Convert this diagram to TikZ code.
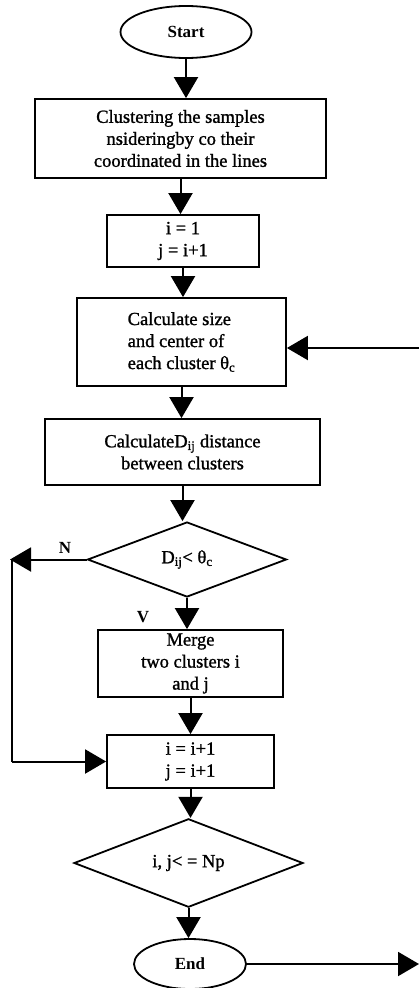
\documentclass[tikz,border=0pt]{standalone}
\usepackage{fontspec}
\setmainfont{Liberation Serif}
\newfontfamily\heavyserif[FakeBold=1.2]{Liberation Serif}
\usetikzlibrary{shapes.geometric,arrows.meta}
\begin{document}
\begin{tikzpicture}[x=1pt,y=-1pt,
  every node/.style={font=\heavyserif\fontsize{18.5}{22}\selectfont},
  box/.style={draw,line width=1.8pt,rectangle,inner sep=0pt,align=center},
  term/.style={draw,line width=1.8pt,ellipse,inner sep=0pt,font=\fontsize{17}{20}\selectfont\bfseries},
  dec/.style={draw,line width=1.8pt,diamond,inner sep=0pt},
  arr/.style={line width=2pt,-{Triangle[length=21pt,width=24pt]}},
  ln/.style={line width=2pt},
  lbl/.style={font=\fontsize{17}{20}\selectfont\bfseries}]
\useasboundingbox (0,0) rectangle (419,988);
\node[term,minimum width=131pt,minimum height=52pt] (start) at (186,32) {Start};
\node[box,minimum width=291pt,minimum height=79pt] (b1) at (180.5,138.5) {Clustering the samples\\nsideringby co their\\coordinated in the lines};
\node[box,minimum width=152pt,minimum height=52pt] (b2) at (183,241) {i = 1\\j = i+1};
\node[box,minimum width=209pt,minimum height=88pt,align=left] (b3) at (181.5,342) {Calculate size\\and center of\\each cluster θ\textsubscript{c}};
\node[box,minimum width=275pt,minimum height=66pt] (b4) at (182.5,452) {CalculateD\textsubscript{ij} distance\\between clusters};
\node[dec,minimum width=199pt,minimum height=75pt] (d1) at (187,559.5) {D\textsubscript{ij}< θ\textsubscript{c}};
\node[box,minimum width=185pt,minimum height=67pt] (b5) at (190.5,663.5) {Merge\\two clusters i\\and j};
\node[box,minimum width=167pt,minimum height=53pt] (b6) at (190.5,761.5) {i = i+1\\j = i+1};
\node[dec,minimum width=229pt,minimum height=70pt] (d2) at (188.5,863) {i, j< = Np};
\node[term,minimum width=112pt,minimum height=50pt] (end) at (190,964) {End};
\node[lbl] (nl) at (65,548) {N};
\node[lbl] (vl) at (143,617) {V};
\coordinate (rin) at (419,348);
\coordinate (rout) at (419,964);
\coordinate (ntip) at (10,559.5);
\coordinate (ncorner) at (12,559.5);
\draw[arr] (start.south) -- (start.south |- b1.north);
\draw[arr] (b1.south) -- (b1.south |- b2.north);
\draw[arr] (b2.south) -- (b2.south |- b3.north);
\draw[arr] (b3.south) -- (b3.south |- b4.north);
\draw[arr] (b4.south) -- (b4.south |- d1.north);
\draw[arr] (d1.south) -- (d1.south |- b5.north);
\draw[arr] (b5.south) -- (b5.south |- b6.north);
\draw[arr] (b6.south) -- (b6.south |- d2.north);
\draw[arr] (d2.south) -- (d2.south |- end.north);
\draw[arr] (rin) -- (rin -| b3.east);
\draw[arr] (d1.west) -- (ntip);
\draw[ln] (ncorner) -- (ncorner |- b6.west);
\draw[arr] (ncorner |- b6.west) -- (b6.west);
\draw[arr] (end.east) -- (rout);
\end{tikzpicture}
\end{document}
